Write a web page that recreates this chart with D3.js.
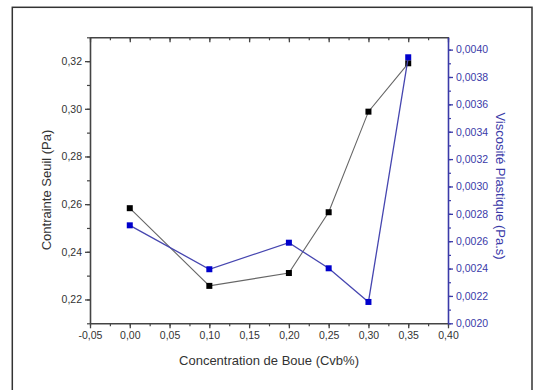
<!DOCTYPE html>
<html>
<head>
<meta charset="utf-8">
<script src="https://cdn.jsdelivr.net/npm/d3@7"></script>
<style>
  body { margin: 0; background: #fff; }
  svg { display: block; font-family: "Liberation Sans", Arial, sans-serif; }
  .axis-left text, .axis-bottom text { fill: #333; font-size: 10.5px; }
  .axis-right text { fill: #3a3aa8; font-size: 10.5px; }
</style>
</head>
<body>
<div id="vis1"></div>
<script>
const FRAME_WIDTH = 536;
const FRAME_HEIGHT = 390;
const MARGINS = {left: 90, right: 88, top: 37.3, bottom: 66.7};

const VIS_WIDTH = FRAME_WIDTH - MARGINS.left - MARGINS.right;
const VIS_HEIGHT = FRAME_HEIGHT - MARGINS.top - MARGINS.bottom;

// data
const concentration = [0.00, 0.10, 0.20, 0.25, 0.30, 0.35];
const contrainte = [0.2583, 0.2257, 0.2311, 0.2566, 0.2988, 0.3191];
const viscosite = [0.002716, 0.002395, 0.002589, 0.002402, 0.002156, 0.003944];

const xTicks = [-0.05, 0, 0.05, 0.10, 0.15, 0.20, 0.25, 0.30, 0.35, 0.40];
const yLeftTicks = [0.22, 0.24, 0.26, 0.28, 0.30, 0.32];
const yRightTicks = [0.0020, 0.0022, 0.0024, 0.0026, 0.0028, 0.0030, 0.0032, 0.0034, 0.0036, 0.0038, 0.0040];

const BLUE_AXIS = "#3a3aa8";
// french decimals, plain hyphen for the minus
const comma = (n) => (d) => d.toFixed(n).replace(".", ",");

const FRAME1 = d3.select("#vis1")
                 .append("svg")
                 .attr("width", FRAME_WIDTH)
                 .attr("height", FRAME_HEIGHT);

// outer border of the figure
FRAME1.append("rect")
      .attr("x", 12.3).attr("y", 7.3)
      .attr("width", 532 - 12.3).attr("height", 400)
      .attr("fill", "none")
      .attr("stroke", "#333")
      .attr("stroke-width", 1.5);

const X_Scale = d3.scaleLinear().domain([-0.05, 0.40]).range([MARGINS.left, MARGINS.left + VIS_WIDTH]);
const Y_Left = d3.scaleLinear().domain([0.21, 0.33]).range([MARGINS.top + VIS_HEIGHT, MARGINS.top]);
const Y_Right = d3.scaleLinear().domain([0.0020, 0.00409]).range([MARGINS.top + VIS_HEIGHT, MARGINS.top]);

const minorX = d3.range(-0.05, 0.4001, 0.025);
const minorL = d3.range(0.21, 0.3301, 0.01);
const minorR = d3.range(0.0020, 0.00409, 0.0001);

function styleAxis(g, color) {
  g.select(".domain").attr("stroke", color).attr("stroke-width", 1.6);
  g.selectAll(".tick line").attr("stroke", color).attr("stroke-width", 1.3);
}

// minor ticks first, majors on top
function minor(axis, scale, vals, transform, color) {
  const g = FRAME1.append("g")
        .attr("transform", transform)
        .call(axis(scale).tickValues(vals).tickSize(3).tickFormat(""));
  g.select(".domain").remove();
  g.selectAll(".tick line").attr("stroke", color).attr("stroke-width", 1.2);
}

const bottomY = MARGINS.top + VIS_HEIGHT;
const rightX = MARGINS.left + VIS_WIDTH;

minor(d3.axisBottom, X_Scale, minorX, "translate(0," + bottomY + ")", "#444");
minor(d3.axisBottom, X_Scale, minorX, "translate(0," + MARGINS.top + ")", "#444");
minor(d3.axisLeft, Y_Left, minorL, "translate(" + MARGINS.left + ",0)", "#444");
minor(d3.axisRight, Y_Right, minorR, "translate(" + rightX + ",0)", BLUE_AXIS);

// bottom axis
FRAME1.append("g")
      .attr("class", "axis-bottom")
      .attr("transform", "translate(0," + bottomY + ")")
      .call(d3.axisBottom(X_Scale).tickValues(xTicks).tickSize(5).tickSizeOuter(0).tickPadding(3).tickFormat(comma(2)))
      .call((g) => styleAxis(g, "#444"));

// top axis (inner ticks, no labels)
FRAME1.append("g")
      .attr("transform", "translate(0," + MARGINS.top + ")")
      .call(d3.axisBottom(X_Scale).tickValues(xTicks).tickSize(5).tickSizeOuter(0).tickFormat(""))
      .call((g) => styleAxis(g, "#444"));

// left axis
FRAME1.append("g")
      .attr("class", "axis-left")
      .attr("transform", "translate(" + MARGINS.left + ",0)")
      .call(d3.axisLeft(Y_Left).tickValues(yLeftTicks).tickSize(5).tickSizeOuter(0).tickPadding(3).tickFormat(comma(2)))
      .call((g) => styleAxis(g, "#444"));

// right axis
FRAME1.append("g")
      .attr("class", "axis-right")
      .attr("transform", "translate(" + rightX + ",0)")
      .call(d3.axisRight(Y_Right).tickValues(yRightTicks).tickSize(5).tickSizeOuter(0).tickPadding(3).tickFormat(comma(4)))
      .call((g) => styleAxis(g, BLUE_AXIS));

// axis titles
FRAME1.append("text")
      .attr("x", 269).attr("y", 364.5)
      .attr("text-anchor", "middle")
      .attr("font-size", 13).attr("fill", "#333")
      .text("Concentration de Boue (Cvb%)");

FRAME1.append("text")
      .attr("transform", "translate(51,190) rotate(-90)")
      .attr("text-anchor", "middle")
      .attr("font-size", 13).attr("fill", "#333")
      .text("Contrainte Seuil (Pa)");

FRAME1.append("text")
      .attr("transform", "translate(496,186) rotate(90)")
      .attr("text-anchor", "middle")
      .attr("font-size", 13).attr("fill", BLUE_AXIS)
      .text("Viscosité Plastique (Pa.s)");

// series
const seriesBlack = concentration.map((c, i) => ({x: c, y: contrainte[i]}));
const seriesBlue = concentration.map((c, i) => ({x: c, y: viscosite[i]}));

FRAME1.append("path")
      .datum(seriesBlack)
      .attr("fill", "none").attr("stroke", "#666").attr("stroke-width", 1.1)
      .attr("d", d3.line().x((d) => X_Scale(d.x)).y((d) => Y_Left(d.y)));

FRAME1.selectAll(".pt-black")
      .data(seriesBlack)
      .enter().append("rect")
      .attr("class", "pt-black")
      .attr("x", (d) => X_Scale(d.x) - 3).attr("y", (d) => Y_Left(d.y) - 3)
      .attr("width", 6).attr("height", 6)
      .attr("fill", "#000");

FRAME1.append("path")
      .datum(seriesBlue)
      .attr("fill", "none").attr("stroke", "#4646b0").attr("stroke-width", 1.3)
      .attr("d", d3.line().x((d) => X_Scale(d.x)).y((d) => Y_Right(d.y)));

FRAME1.selectAll(".pt-blue")
      .data(seriesBlue)
      .enter().append("rect")
      .attr("class", "pt-blue")
      .attr("x", (d) => X_Scale(d.x) - 3).attr("y", (d) => Y_Right(d.y) - 3)
      .attr("width", 6).attr("height", 6)
      .attr("fill", "#0000cc");
</script>
</body>
</html>
